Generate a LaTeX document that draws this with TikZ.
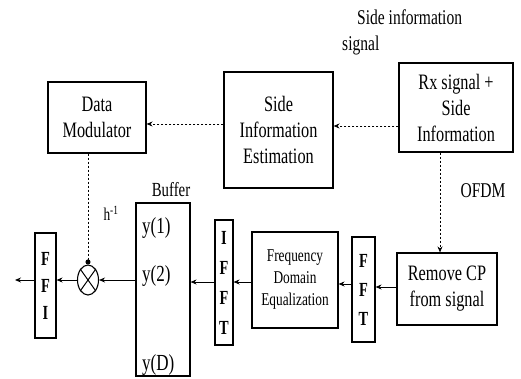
\documentclass[tikz,border=0pt]{standalone}
\usepackage{fontspec}
\setmainfont[FakeStretch=0.74,BoldFeatures={FakeStretch=0.72}]{Liberation Serif}
\usetikzlibrary{arrows.meta,shapes.geometric}
\begin{document}
\begin{tikzpicture}[x=1pt,y=-1pt,
  box/.style={draw,line width=1.1pt,inner sep=0pt,align=center,font=\fontsize{22}{26}\selectfont},
  tall/.style={draw,line width=1.1pt,inner sep=0pt,align=center,font=\bfseries\fontsize{20}{29}\selectfont},
  arr/.style={line width=0.9pt,-{Stealth[length=6pt,width=5pt]}},
  darr/.style={arr,dash pattern=on 2.5pt off 1.5pt},
  lbl/.style={inner sep=0pt,font=\fontsize{21}{25}\selectfont}]
\useasboundingbox (0,0) rectangle (521,379);
% boxes
\node[box,minimum width=98pt,minimum height=71pt] (dm) at (97,117.5) {Data\\Modulator};
\node[box,minimum width=109pt,minimum height=116pt] (sie) at (278.5,130) {Side\\Information\\Estimation};
\node[box,minimum width=114pt,minimum height=89pt] (rx) at (456,107.5) {Rx signal +\\Side\\Information};
\node[box,minimum width=100pt,minimum height=72pt] (rm) at (447,289) {Remove CP\\from signal};
\node[tall,minimum width=23pt,minimum height=105pt] (fft) at (363.5,289.5) {F\\F\\T};
\node[box,minimum width=86pt,minimum height=96pt,font=\fontsize{18}{22}\selectfont] (fde) at (295,280) {Frequency\\Domain\\Equalization};
\node[tall,minimum width=18pt,minimum height=125pt,font=\bfseries\fontsize{20}{30}\selectfont] (ifft) at (224,282.5) {I\\F\\F\\T};
\node[box,minimum width=54pt,minimum height=173pt] (buf) at (163,289.5) {};
\node[tall,minimum width=21pt,minimum height=105pt,font=\bfseries\fontsize{20}{27}\selectfont] (ffi) at (45.5,285.5) {F\\F\\I};
\node[draw,line width=1.1pt,ellipse,minimum width=21pt,minimum height=30pt,inner sep=0pt] (mult) at (88,280) {};
\draw[line width=1pt] (mult.north east) -- (mult.south west) (mult.north west) -- (mult.south east);
% texts
\node[lbl,anchor=west,font=\fontsize{23}{26}\selectfont] (y1) at (142,228) {y(1)};
\node[lbl,anchor=west,font=\fontsize{23}{26}\selectfont] (y2) at (142,276) {y(2)};
\node[lbl,anchor=west,font=\fontsize{23}{26}\selectfont] (yd) at (142,365) {y(D)};
\node[lbl,font=\fontsize{20}{23}\selectfont] (bl) at (171,190) {Buffer};
\node[lbl,font=\fontsize{18}{20}\selectfont] (h) at (111,213) {h\textsuperscript{-1}};
\node[lbl,font=\fontsize{21}{26}\selectfont] (ofdm) at (483,191) {OFDM};
\node[lbl,anchor=north west,font=\fontsize{21}{26}\selectfont] (si1) at (357,10) {Side information};
\node[lbl,anchor=north west,font=\fontsize{21}{26}\selectfont] (si2) at (342,36) {signal};
% coordinates
\coordinate (r1) at (0,126);
\coordinate (r2) at (0,124);
\coordinate (vx) at (440,0);
\coordinate (r3) at (0,287);
\coordinate (r4) at (0,284);
\coordinate (row) at (0,282);
\coordinate (out) at (15,280);
% connectors
\draw[darr] (rx.west |- r1) -- (sie.east |- r1);
\draw[darr] (sie.west |- r2) -- (dm.east |- r2);
\draw[darr] (rx.south -| vx) -- (rm.north -| vx);
\draw[arr] (rm.west |- r3) -- (fft.east |- r3);
\draw[arr] (fft.west |- r4) -- (fde.east |- r4);
\draw[arr] (fde.west |- row) -- (ifft.east |- row);
\draw[arr] (ifft.west |- row) -- (buf.east |- row);
\draw[arr] (buf.west |- mult.east) -- (mult.east);
\draw[arr] (mult.west) -- (ffi.east |- mult.west);
\draw[arr] (ffi.west |- out) -- (out);
\draw[line width=0.9pt,dash pattern=on 2.5pt off 1.5pt,-{Circle[length=5pt]}] (mult.north |- dm.south) -- (mult.north);
\end{tikzpicture}
\end{document}
